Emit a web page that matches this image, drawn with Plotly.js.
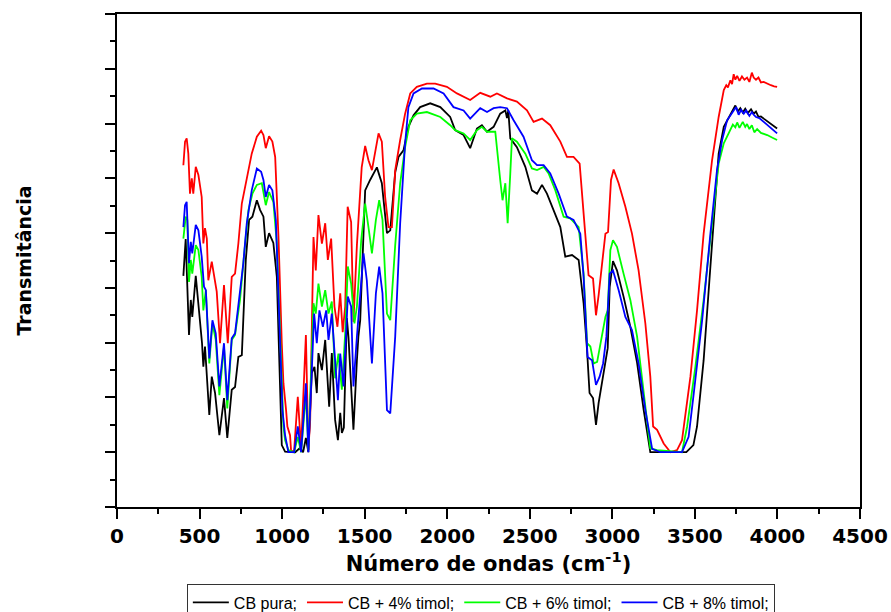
<!DOCTYPE html>
<html>
<head>
<meta charset="utf-8">
<script src="https://cdn.plot.ly/plotly-3.0.1.min.js"></script>
<style>html,body{margin:0;padding:0;background:#fff;}#chart{width:891px;height:612px;}</style>
</head>
<body>
<div id="chart"></div>
<script>
// Wavenumber (cm-1) and transmittance (arbitrary units)
const wnPura = [402,416,436,447,456,477,515,523,533,559,574,594,620,648,668,695,715,735,756,780,800,820,847,867,887,901,921,947,968,988,998,1018,1079,1109,1127,1144,1159,1180,1196,1210,1220,1241,1261,1285,1301,1321,1338,1352,1362,1374,1392,1402,1432,1453,1462,1473,1503,1533,1574,1604,1635,1655,1685,1705,1735,1765,1796,1836,1897,1958,2018,2048,2099,2139,2180,2210,2241,2281,2321,2352,2362,2370,2382,2422,2473,2513,2544,2574,2604,2644,2685,2715,2756,2796,2826,2847,2862,2883,2901,2917,2938,2958,2972,2984,3004,3028,3068,3109,3150,3190,3230,3448,3491,3513,3553,3594,3624,3644,3675,3715,3730,3745,3760,3775,3790,3805,3820,3840,3856,3870,3885,3900,3917,3950,3975,3998];
const tPura = [4.22,4.89,3.14,3.78,3.47,4.22,2.99,2.56,2.93,1.68,2.38,2.08,1.31,1.99,1.26,2.14,2.19,2.74,2.77,4.51,5.24,5.30,5.60,5.42,5.30,4.75,5.00,4.82,4.20,2.38,1.13,1.01,1.00,1.08,1.00,1.26,1.00,2.45,2.56,2.08,2.81,2.50,3.05,1.83,2.81,1.59,1.22,1.72,1.35,1.45,3.45,3.10,1.41,2.68,3.11,3.41,5.78,5.97,6.20,5.91,5.00,5.05,6.11,6.39,6.51,6.94,7.15,7.30,7.37,7.30,7.12,6.88,6.79,6.55,6.91,6.97,6.85,6.94,7.18,7.24,7.10,7.24,6.73,6.57,6.21,5.78,5.72,5.88,5.72,5.42,5.11,4.57,4.60,4.51,3.72,2.86,2.08,1.99,1.50,1.90,2.26,2.68,2.90,4.02,4.49,4.32,3.84,3.29,2.63,1.77,1.00,1.00,1.13,1.47,2.68,4.39,5.72,6.45,6.94,7.18,7.26,7.33,7.22,7.28,7.20,7.27,7.19,7.26,7.18,7.22,7.12,7.13,7.09,7.02,6.97,6.91];

const wn4 = [402,412,422,432,442,453,462,477,493,513,523,533,544,553,574,604,624,648,671,695,715,735,756,786,816,847,873,887,901,921,941,958,978,998,1008,1024,1032,1048,1055,1073,1095,1115,1144,1159,1170,1190,1204,1220,1241,1261,1277,1297,1317,1335,1352,1367,1382,1397,1418,1432,1453,1482,1503,1523,1544,1584,1604,1624,1644,1665,1685,1715,1745,1776,1816,1877,1927,1998,2059,2139,2200,2261,2301,2362,2422,2483,2523,2574,2624,2685,2725,2765,2802,2826,2856,2883,2901,2917,2938,2958,2974,2992,3008,3038,3079,3119,3159,3200,3230,3247,3271,3311,3352,3392,3422,3473,3513,3553,3604,3644,3675,3690,3700,3715,3725,3735,3745,3756,3770,3785,3800,3816,3830,3845,3856,3870,3885,3900,3917,3940,3960,3980,3998];
const t4 = [6.24,6.67,6.73,6.45,5.72,6.00,5.72,6.21,6.06,5.66,4.81,5.09,4.90,4.14,4.48,3.93,2.99,4.05,2.99,4.20,4.26,4.81,5.54,6.03,6.45,6.76,6.87,6.79,6.55,6.77,6.67,6.39,4.93,2.99,2.26,1.77,1.47,1.31,1.00,1.04,2.01,1.07,3.14,1.04,1.59,4.93,4.32,5.33,4.81,5.18,4.51,4.90,3.66,3.29,3.90,3.19,3.66,5.48,5.20,3.38,4.78,6.20,6.59,6.33,6.15,6.82,6.67,5.66,5.11,5.11,6.15,6.70,7.18,7.55,7.67,7.73,7.73,7.67,7.55,7.43,7.56,7.49,7.55,7.46,7.40,7.24,7.03,7.09,6.97,6.67,6.39,6.39,6.27,5.36,4.23,4.17,3.50,3.87,4.45,4.99,5.02,5.97,6.16,5.91,5.48,4.99,4.32,3.35,2.38,1.47,1.41,1.16,1.00,1.04,1.22,2.38,3.59,4.99,6.33,7.12,7.61,7.70,7.66,7.79,7.72,7.90,7.80,7.87,7.78,7.86,7.80,7.84,7.76,7.93,7.84,7.80,7.84,7.75,7.76,7.72,7.70,7.68,7.67];

const wn6 = [402,416,426,436,447,456,477,493,513,523,538,559,578,598,620,648,668,695,715,745,776,796,820,847,877,901,921,947,968,988,1008,1018,1038,1073,1095,1115,1144,1159,1190,1204,1220,1241,1261,1281,1301,1321,1341,1362,1382,1398,1418,1438,1453,1479,1503,1523,1544,1568,1588,1608,1635,1655,1685,1715,1745,1776,1816,1877,1958,2018,2048,2099,2139,2180,2210,2241,2291,2321,2335,2352,2366,2382,2392,2422,2473,2513,2544,2584,2614,2655,2705,2745,2796,2826,2847,2867,2887,2908,2938,2958,2972,2988,3004,3028,3068,3109,3150,3190,3230,3271,3422,3453,3503,3553,3604,3644,3675,3715,3730,3745,3756,3770,3790,3805,3816,3830,3845,3860,3877,3900,3938,3970,3998];
const t6 = [4.90,5.30,5.24,4.11,4.51,4.26,4.78,4.69,4.20,3.59,3.96,2.62,3.35,3.05,2.04,2.93,1.80,3.05,3.14,3.78,4.81,5.42,5.72,5.88,5.91,5.51,5.75,5.57,4.81,2.99,1.47,1.22,1.04,1.00,1.28,1.00,2.07,1.04,3.72,3.53,4.08,3.66,3.96,3.53,3.75,2.35,2.80,2.14,3.17,4.39,4.08,3.35,3.66,4.87,5.54,5.11,4.63,5.24,5.60,5.24,3.53,3.41,4.78,5.91,6.57,7.06,7.18,7.21,7.12,6.97,6.88,6.82,6.70,6.88,6.94,6.85,6.85,5.97,5.60,5.91,5.18,6.09,6.73,6.67,6.45,6.18,6.15,6.21,6.09,5.78,5.30,5.27,5.11,4.26,2.99,2.93,2.62,2.65,3.17,3.47,3.59,4.69,4.87,4.75,4.26,3.78,3.11,2.14,1.07,1.04,1.00,1.47,2.56,3.78,5.24,6.27,6.64,6.91,6.98,6.93,7.02,6.92,7.03,6.94,6.99,6.90,6.97,6.84,6.90,6.83,6.79,6.74,6.70];

const wn8 = [402,412,422,436,447,456,477,493,513,527,538,559,578,598,620,648,668,695,715,739,765,786,816,847,873,887,901,921,941,962,982,1002,1018,1038,1073,1095,1115,1144,1159,1194,1210,1226,1247,1267,1281,1301,1321,1338,1352,1372,1398,1418,1432,1453,1493,1513,1544,1568,1588,1608,1635,1655,1685,1715,1745,1765,1796,1847,1917,1978,2038,2099,2139,2200,2241,2281,2321,2362,2402,2462,2513,2544,2584,2624,2675,2725,2765,2806,2826,2850,2877,2901,2923,2944,2964,2984,3004,3038,3079,3119,3159,3200,3241,3291,3422,3462,3493,3544,3594,3634,3665,3695,3735,3750,3765,3780,3796,3810,3830,3845,3856,3870,3890,3917,3950,3975,3998];
const t8 = [5.11,5.51,5.57,4.45,4.84,4.63,5.15,5.05,4.57,4.02,3.96,2.71,3.41,3.17,2.20,2.99,1.95,3.08,3.17,3.84,4.45,5.18,5.78,6.18,6.12,5.97,5.66,5.88,5.78,5.24,3.59,1.77,1.31,1.00,1.00,1.47,1.00,2.26,1.00,3.53,2.99,3.59,3.29,3.59,3.05,3.53,2.68,1.95,2.80,2.20,3.84,3.66,2.20,3.11,4.63,4.14,2.62,3.90,4.39,3.90,1.77,1.71,3.11,5.18,6.64,7.30,7.55,7.64,7.64,7.55,7.30,7.24,7.09,7.28,7.21,7.28,7.30,7.28,7.06,6.76,6.33,6.24,6.24,6.09,5.72,5.30,5.24,4.99,4.20,2.74,2.68,2.23,2.38,2.62,3.11,4.26,4.32,3.96,3.47,3.23,2.62,1.77,1.06,1.00,1.00,1.28,2.07,3.41,4.99,6.15,6.70,7.06,7.24,7.30,7.16,7.25,7.18,7.24,7.14,7.21,7.16,7.12,7.10,7.03,6.95,6.88,6.82];

const seriesNames = ['CB pura;', 'CB + 4% timol;', 'CB + 6% timol;', 'CB + 8% timol;'];
const seriesColors = ['#000000', '#ff0000', '#00ff00', '#0000ff'];
const xTickVals = [0,500,1000,1500,2000,2500,3000,3500,4000,4500];
const xTickText = ['0','500','1000','1500','2000','2500','3000','3500','4000','4500'];

const xs = [wnPura, wn4, wn6, wn8];
const ys = [tPura, t4, t6, t8];

const traces = xs.map((x, i) => ({
  x: x, y: ys[i], type: 'scatter', mode: 'lines', name: seriesNames[i],
  line: {color: seriesColors[i], width: 1.8}
}));

const axFont = {family: 'DejaVu Sans, Arial, sans-serif', size: 20, color: '#000', weight: 'bold'};

const layout = {
  width: 891, height: 612,
  margin: {l: 117, r: 31, t: 14, b: 105, autoexpand: false},
  paper_bgcolor: '#fff', plot_bgcolor: '#fff',
  showlegend: true,
  xaxis: {
    range: [0, 4500], tickvals: xTickVals, ticktext: xTickText,
    ticks: 'outside', ticklen: 10, tickwidth: 2, tickcolor: '#000',
    showline: true, linewidth: 2, linecolor: '#000', mirror: true,
    showgrid: false, zeroline: false, tickfont: axFont, automargin: false,
    minor: {dtick: 250, tick0: 0, ticks: 'outside', ticklen: 5, tickwidth: 2, tickcolor: '#000', showgrid: false},
    title: {text: 'Número de ondas (cm<sup>-1</sup>)', font: {family: 'DejaVu Sans, Arial, sans-serif', size: 21, color: '#000', weight: 'bold'}, standoff: 8}
  },
  yaxis: {
    range: [0, 9], dtick: 1, tick0: 0, showticklabels: false, automargin: false,
    ticks: 'outside', ticklen: 10, tickwidth: 2, tickcolor: '#000',
    showline: true, linewidth: 2, linecolor: '#000', mirror: true,
    showgrid: false, zeroline: false,
    minor: {dtick: 0.5, tick0: 0, ticks: 'outside', ticklen: 5, tickwidth: 2, tickcolor: '#000', showgrid: false},
    title: {text: 'Transmitância', font: {family: 'DejaVu Sans, Arial, sans-serif', size: 19, color: '#000', weight: 'bold'}, standoff: 68}
  },
  legend: {
    orientation: 'h', x: 0.094, xanchor: 'left', y: -0.157, yanchor: 'top',
    bordercolor: '#333', borderwidth: 1, bgcolor: '#fff', itemwidth: 36,
    font: {family: 'Arial, Liberation Sans, sans-serif', size: 16, color: '#000'}
  }
};

Plotly.newPlot('chart', traces, layout, {displayModeBar: false, staticPlot: true});
</script>
</body>
</html>
